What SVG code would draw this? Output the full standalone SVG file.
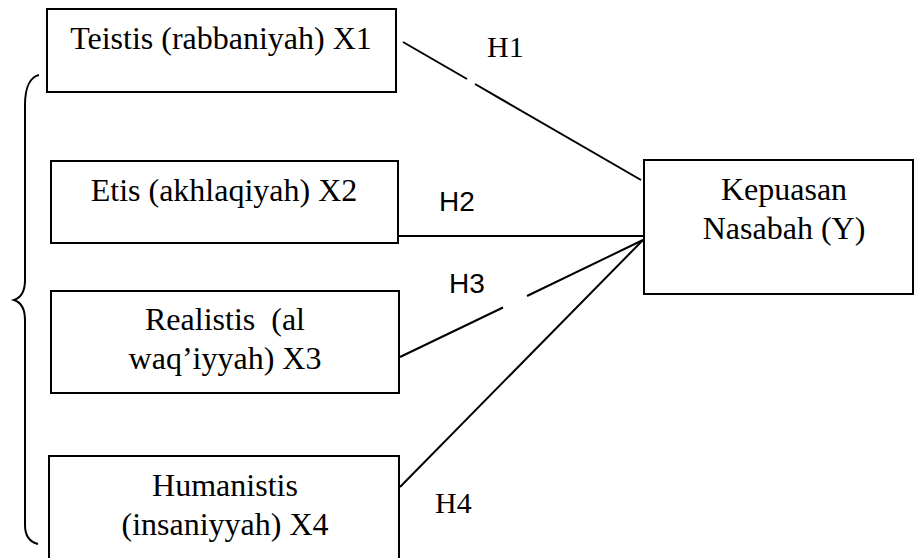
<svg xmlns="http://www.w3.org/2000/svg" width="915" height="558" viewBox="0 0 915 558">
<style>
.box{fill:#fff;stroke:#000;stroke-width:2}
.t{font-family:"Liberation Serif","Times New Roman","DejaVu Serif",serif;font-size:32px;fill:#000;text-anchor:middle}
.h{font-family:"Liberation Serif","Times New Roman","DejaVu Serif",serif;font-size:30px;fill:#000}
.hs{font-family:"Liberation Sans",Arial,sans-serif;font-size:28px;fill:#000}
.ln{stroke:#000;stroke-width:2;fill:none}
</style>
<rect width="915" height="558" fill="#fff"/>
<g id="connectors">
<line class="ln" x1="403" y1="42" x2="467" y2="79"/>
<line class="ln" x1="475" y1="84" x2="641" y2="180"/>
<line class="ln" x1="399" y1="236" x2="644" y2="236"/>
<line class="ln" x1="400" y1="357" x2="503" y2="307.5"/>
<line class="ln" x1="527" y1="296" x2="643" y2="240"/>
<line class="ln" x1="400" y1="487" x2="643" y2="240"/>
<text class="h" x="487" y="57">H1</text>
<text class="hs" x="439" y="211">H2</text>
<text class="hs" x="449" y="293">H3</text>
<text class="h" x="435" y="513">H4</text>
</g>
<g id="brace">
<path class="ln" d="M39,75 C30,77 25,88 25,105 L25,280 C25,292 20,298 14,300 C20,302 25,308 25,320 L25,525 C25,537 30,542 38,544"/>
</g>
<g id="x1">
<rect class="box" x="47" y="9" width="349" height="83"/>
<text class="t" x="221" y="49">Teistis (rabbaniyah) X1</text>
</g>
<g id="x2">
<rect class="box" x="51" y="161" width="347" height="82"/>
<text class="t" x="224" y="201">Etis (akhlaqiyah) X2</text>
</g>
<g id="x3">
<rect class="box" x="51" y="291" width="348" height="102"/>
<text class="t" x="225" y="330" xml:space="preserve">Realistis  (al</text>
<text class="t" x="225" y="369">waq’iyyah) X3</text>
</g>
<g id="x4">
<rect class="box" x="49" y="456" width="350" height="110"/>
<text class="t" x="225" y="496">Humanistis</text>
<text class="t" x="225" y="535">(insaniyyah) X4</text>
</g>
<g id="y">
<rect class="box" x="644" y="160" width="269" height="134"/>
<text class="t" x="784" y="200">Kepuasan</text>
<text class="t" x="784" y="239">Nasabah (Y)</text>
</g>
</svg>
